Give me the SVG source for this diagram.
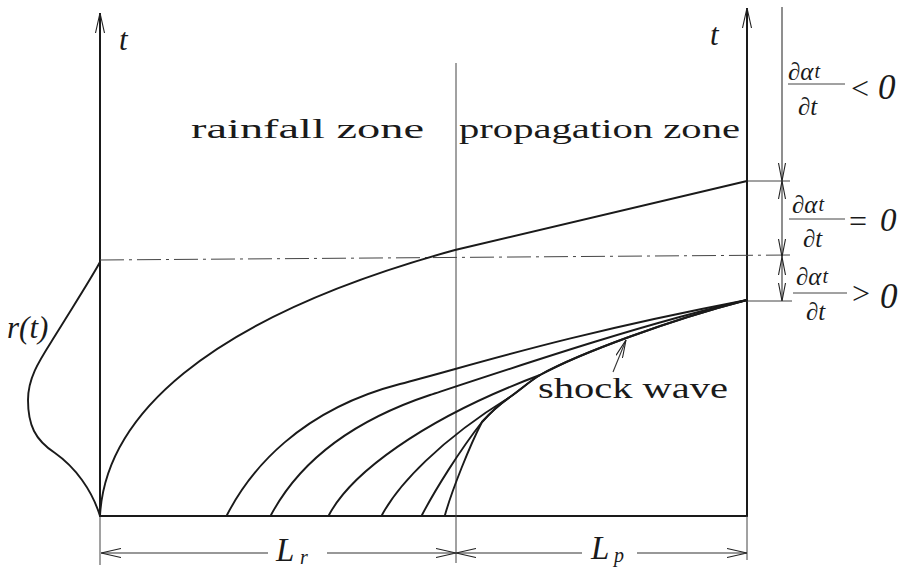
<svg xmlns="http://www.w3.org/2000/svg" width="904" height="569" viewBox="0 0 904 569">
<style>
.ax{stroke:#1a1a1a;stroke-width:2;fill:none}
.cv{stroke:#1a1a1a;stroke-width:1.9;fill:none;stroke-linejoin:round;stroke-linecap:round}
.thin{stroke:#444;stroke-width:1;fill:none}
.dim{stroke:#333;stroke-width:1.1;fill:none}
.txt{font-family:"Liberation Serif","DejaVu Serif","Times New Roman",serif;fill:#1a1a1a}
.it{font-family:"Liberation Serif","DejaVu Serif","Times New Roman",serif;font-style:italic;fill:#1a1a1a}
</style>
<defs>
<marker id="arr" viewBox="0 0 20 10" refX="20" refY="5" markerWidth="20" markerHeight="10" orient="auto-start-reverse" markerUnits="userSpaceOnUse">
<path d="M0,0.5 L20,5 L0,9.5" fill="none" stroke="#222" stroke-width="1.1"/>
</marker>
<marker id="arrs" viewBox="0 0 18 8" refX="18" refY="4" markerWidth="18" markerHeight="8" orient="auto-start-reverse" markerUnits="userSpaceOnUse">
<path d="M0,0.5 L18,4 L0,7.5" fill="none" stroke="#222" stroke-width="1.1"/>
</marker>
</defs>
<rect width="904" height="569" fill="#fff"/>

<g id="axes">
<line class="ax" x1="100" y1="516" x2="100" y2="13" marker-end="url(#arr)"/>
<line class="ax" x1="747" y1="516" x2="747" y2="8" marker-end="url(#arr)"/>
<line class="ax" x1="100" y1="516" x2="748" y2="516"/>
<line class="thin" x1="100" y1="516" x2="100" y2="565"/>
<line class="thin" x1="747" y1="516" x2="747" y2="560"/>
<line class="thin" x1="456" y1="63" x2="456" y2="563"/>
<line class="thin" x1="100" y1="260" x2="790" y2="255" stroke-dasharray="24 5 3 5"/>
<line class="thin" x1="747" y1="181" x2="790" y2="181"/>
<line class="thin" x1="747" y1="301" x2="792" y2="301"/>
</g>

<g id="rainfall-curve">
<path class="cv" d="M100,262 C92,277 74,305 58,331 C42,357 28,375 28,400 C28,425 35,440 55,453 C75,467 92,490 100,516"/>
</g>

<g id="characteristics">
<path class="cv" d="M100,516 C105,420 200,320 455,250 L747,181"/>
<path class="cv" d="M227,515 C250,470 300,410 400,384 C470,366 560,336 747,300"/>
<path class="cv" d="M271,515 C295,470 340,425 430,395 C530,362 650,322 747,300"/>
<path class="cv" d="M329,515 C350,475 420,420 540,375 C580,353 670,320 747,300"/>
<path class="cv" d="M382,515 C398,485 440,440 510,397 C520,390 530,381 540,375"/>
<path class="cv" d="M422,515 C435,490 460,450 482,422 C490,413 500,404 510,397"/>
</g>

<g id="shock-wave">
<path class="cv" d="M445,515 C452,490 470,445 482,422 C490,413 500,404 510,397 C520,390 530,381 540,375 C580,353 670,320 747,300"/>
</g>

<g id="connectors">
<line class="dim" x1="613" y1="372" x2="626" y2="340" marker-end="url(#arrs)"/>
<line class="dim" x1="268" y1="553" x2="101" y2="553" marker-end="url(#arr)"/>
<line class="dim" x1="327" y1="553" x2="456" y2="553" marker-end="url(#arr)"/>
<line class="dim" x1="582" y1="553" x2="456" y2="553" marker-end="url(#arr)"/>
<line class="dim" x1="637" y1="553" x2="747" y2="553" marker-end="url(#arr)"/>
<line class="dim" x1="782" y1="7" x2="782" y2="181" marker-end="url(#arrs)"/>
<line class="dim" x1="782" y1="181" x2="782" y2="257" marker-start="url(#arrs)" marker-end="url(#arrs)"/>
<line class="dim" x1="782" y1="257" x2="782" y2="301" marker-start="url(#arrs)" marker-end="url(#arrs)"/>
</g>

<g id="labels">
<text class="it" x="119" y="50" font-size="31">t</text>
<text class="it" x="710" y="45" font-size="31">t</text>
<text class="txt" x="191" y="138" font-size="28" textLength="233" lengthAdjust="spacingAndGlyphs">rainfall zone</text>
<text class="txt" x="459" y="138" font-size="28" textLength="281" lengthAdjust="spacingAndGlyphs">propagation zone</text>
<text class="txt" x="538" y="398" font-size="30" textLength="190" lengthAdjust="spacingAndGlyphs">shock wave</text>
<text class="it" x="7" y="338" font-size="31">r(t)</text>
<text class="it" x="276" y="561" font-size="33">L</text>
<text class="it" x="300" y="564" font-size="20">r</text>
<text class="it" x="591" y="559" font-size="33">L</text>
<text class="it" x="614" y="562" font-size="20">p</text>
</g>

<g id="label-dadt-neg">
<text class="it" x="788" y="80" font-size="25">∂α<tspan font-size="20" dx="1" dy="-2">t</tspan></text>
<line class="thin" x1="788" y1="84" x2="845" y2="84"/>
<text class="it" x="798" y="115" font-size="25">∂t</text>
<text class="txt" x="851" y="99" font-size="32">&lt;</text>
<text class="it" x="878" y="99" font-size="35">0</text>
</g>
<g id="label-dadt-zero">
<text class="it" x="792" y="213" font-size="25">∂α<tspan font-size="20" dx="1" dy="-2">t</tspan></text>
<line class="thin" x1="789" y1="219" x2="845" y2="219"/>
<text class="it" x="803" y="247" font-size="25">∂t</text>
<text class="txt" x="849" y="232" font-size="32">=</text>
<text class="it" x="880" y="231" font-size="33">0</text>
</g>
<g id="label-dadt-pos">
<text class="it" x="796" y="285" font-size="25">∂α<tspan font-size="20" dx="1" dy="-2">t</tspan></text>
<line class="thin" x1="793" y1="293" x2="847" y2="293"/>
<text class="it" x="806" y="320" font-size="25">∂t</text>
<text class="txt" x="852" y="304" font-size="32">&gt;</text>
<text class="it" x="880" y="308" font-size="35">0</text>
</g>
</svg>
